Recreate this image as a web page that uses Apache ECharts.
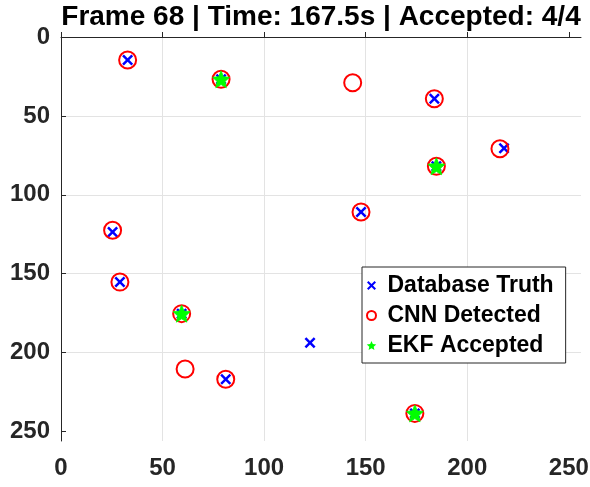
<!DOCTYPE html>
<html>
<head>
<meta charset="utf-8">
<script src="https://cdn.jsdelivr.net/npm/echarts@6/dist/echarts.min.js"></script>
<style>
  html, body { margin: 0; padding: 0; background: #ffffff; }
  #chart { width: 590px; height: 487px; }
</style>
</head>
<body>
<div id="chart"></div>
<script>
// ---- Data ----
const titleText = 'Frame 68 | Time: 167.5s | Accepted: 4/4';
const seriesNames = ['Database Truth', 'CNN Detected', 'EKF Accepted'];
const xTicks = [0, 50, 100, 150, 200, 250];
const yTicks = [0, 50, 100, 150, 200, 250];

const truthX = [32.8, 78.8, 183.8, 218.1, 184.8, 147.7, 25.4, 29.0, 59.4, 81.1, 122.6, 174.2];
const truthY = [14.6, 26.8, 39.1, 70.5, 81.9, 110.9, 123.6, 155.3, 175.3, 216.9, 193.7, 238.5];

const cnnX = [32.8, 78.8, 143.6, 183.8, 216.1, 184.8, 147.7, 25.4, 29.0, 59.4, 61.1, 81.1, 174.2];
const cnnY = [14.6, 26.8, 29.0, 39.1, 70.8, 81.9, 110.9, 122.5, 155.3, 175.3, 210.4, 216.9, 238.5];

const ekfX = [78.8, 184.8, 59.4, 174.2];
const ekfY = [26.8, 81.9, 175.3, 238.5];

// ---- Helpers ----
function pairs(xs, ys) { return xs.map((x, i) => [x, ys[i]]); }

const xPath = 'path://M1.6,0L5,3.4L8.4,0L10,1.6L6.6,5L10,8.4L8.4,10L5,6.6L1.6,10L0,8.4L3.4,5L0,1.6Z';
function starPath() {
  const pts = [];
  for (let i = 0; i < 10; i++) {
    const r = (i % 2 === 0) ? 10 : 4.6;
    const a = -Math.PI / 2 + i * Math.PI / 5;
    pts.push((10 + r * Math.cos(a)).toFixed(3) + ',' + (10 + r * Math.sin(a)).toFixed(3));
  }
  return 'path://M' + pts.join('L') + 'Z';
}
const sPath = starPath();

const axisColor = '#262626';
const gridColor = '#e3e3e3';
const fontFam = '"Liberation Sans", Arial, Helvetica, sans-serif';

const chart = echarts.init(document.getElementById('chart'), null, { renderer: 'canvas' });
chart.setOption({
  backgroundColor: '#ffffff',
  animation: false,
  title: {
    text: titleText,
    left: 321,
    top: 3,
    padding: 0,
    textAlign: 'center',
    textStyle: { fontFamily: fontFam, fontSize: 28, fontWeight: 'bold', color: '#000000' }
  },
  grid: { left: 61, top: 37, right: 9, bottom: 46, containLabel: false, outerBoundsMode: 'none' },
  xAxis: {
    type: 'value',
    min: 0, max: 256, interval: 50,
    position: 'bottom',
    axisLine: { show: true, lineStyle: { color: axisColor, width: 1 } },
    axisTick: { show: true, inside: true, length: 5, customValues: xTicks, lineStyle: { color: axisColor } },
    axisLabel: { customValues: xTicks, margin: 15, fontFamily: fontFam, fontSize: 24, fontWeight: 'bold', color: axisColor },
    splitLine: { show: true, showMaxLine: false, lineStyle: { color: gridColor, width: 1 } }
  },
  yAxis: {
    type: 'value',
    inverse: true,
    min: 0, max: 256, interval: 50,
    position: 'left',
    axisLine: { show: true, lineStyle: { color: axisColor, width: 1 } },
    axisTick: { show: true, inside: true, length: 5, customValues: yTicks, lineStyle: { color: axisColor } },
    axisLabel: { customValues: yTicks, margin: 11, padding: [4, 0, 0, 0], fontFamily: fontFam, fontSize: 24, fontWeight: 'bold', color: axisColor },
    splitLine: { show: true, showMaxLine: false, lineStyle: { color: gridColor, width: 1 } }
  },
  legend: {
    orient: 'vertical',
    left: 362, top: 267,
    padding: [7, 12, 6, 4],
    itemGap: 7,
    itemWidth: 22, itemHeight: 9,
    backgroundColor: '#ffffff',
    borderColor: axisColor,
    borderWidth: 1,
    borderRadius: 0,
    textStyle: { fontFamily: fontFam, fontSize: 23, fontWeight: 'bold', color: '#000000' },
    data: [
      { name: seriesNames[0], icon: xPath, itemStyle: { color: '#0000ff', borderWidth: 0 } },
      { name: seriesNames[1], icon: 'circle', itemStyle: { color: 'rgba(0,0,0,0)', borderColor: '#ff0000', borderWidth: 2 } },
      { name: seriesNames[2], icon: sPath, itemStyle: { color: '#00ff00', borderWidth: 0 } }
    ]
  },
  series: [
    {
      name: seriesNames[0], type: 'scatter',
      data: pairs(truthX, truthY),
      symbol: xPath, symbolSize: 11,
      itemStyle: { color: '#0000ff', opacity: 1 },
      z: 2
    },
    {
      name: seriesNames[1], type: 'scatter',
      data: pairs(cnnX, cnnY),
      symbol: 'circle', symbolSize: 17,
      itemStyle: { color: 'rgba(0,0,0,0)', borderColor: '#ff0000', borderWidth: 2, opacity: 1 },
      z: 3
    },
    {
      name: seriesNames[2], type: 'scatter',
      data: pairs(ekfX, ekfY),
      symbol: sPath, symbolSize: 17,
      itemStyle: { color: '#00ff00', borderColor: '#00ff00', borderWidth: 0.8, opacity: 1 },
      z: 4
    }
  ]
});
</script>
</body>
</html>
